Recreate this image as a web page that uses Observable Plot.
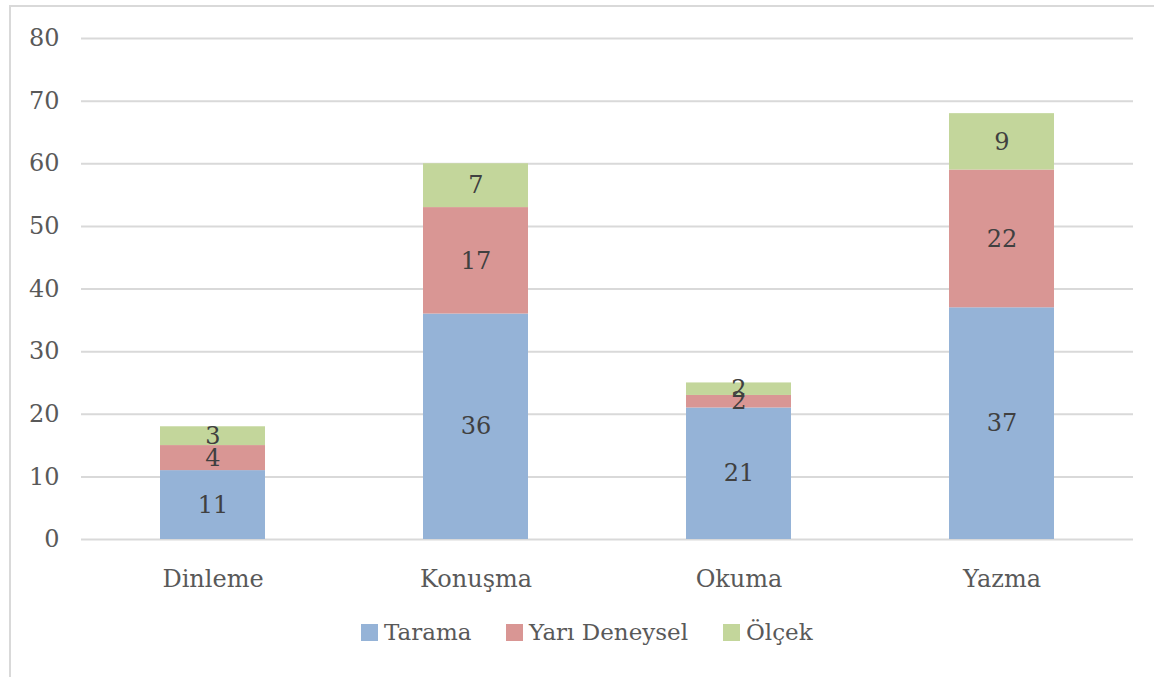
<!DOCTYPE html>
<html>
<head>
<meta charset="utf-8">
<script src="https://cdn.jsdelivr.net/npm/d3@7"></script>
<script src="https://cdn.jsdelivr.net/npm/@observablehq/plot@0.6"></script>
<style>
  body { margin: 0; background: #fff; font-family: "DejaVu Serif", serif; }
  #frame { position: absolute; left: 9px; top: 5px; width: 1150px; height: 680px; border: 2px solid #d9d9d9; box-sizing: border-box; }
  #chart { position: absolute; left: 0; top: 0; }
  #legend { position: absolute; top: 619px; left: 0; width: 1154px; height: 30px; }
  .item { position: absolute; top: 0; display: flex; align-items: center; font-size: 23px; color: #595959; }
  .sw { width: 17px; height: 17px; margin-right: 6px; }
</style>
</head>
<body>
<div id="frame"></div>
<div id="chart"></div>
<div id="legend"></div>
<script>
const categories = ["Dinleme", "Konuşma", "Okuma", "Yazma"];
const seriesNames = ["Tarama", "Yarı Deneysel", "Ölçek"];
const tarama = [11, 36, 21, 37];
const yariDeneysel = [4, 17, 2, 22];
const olcek = [3, 7, 2, 9];
const colors = ["#95b3d7", "#d99694", "#c3d69b"];
const yTicks = [0, 10, 20, 30, 40, 50, 60, 70, 80];

const seriesValues = [tarama, yariDeneysel, olcek];
const data = [];
categories.forEach((c, i) => {
  seriesNames.forEach((s, j) => {
    data.push({category: c, series: s, value: seriesValues[j][i]});
  });
});

const plot = Plot.plot({
  width: 1154,
  height: 600,
  marginLeft: 81,
  marginRight: 21,
  marginTop: 38,
  marginBottom: 61,
  style: {fontFamily: "DejaVu Serif, serif", fontSize: "24px", color: "#595959", background: "transparent"},
  x: {domain: categories, paddingInner: 0.6, paddingOuter: 0.3, label: null},
  y: {domain: [0, 80], label: null},
  color: {domain: seriesNames, range: colors},
  marks: [
    Plot.gridY(yTicks, {stroke: "#d9d9d9", strokeOpacity: 1, strokeWidth: 2}),
    Plot.barY(data, Plot.stackY({x: "category", y: "value", fill: "series", order: seriesNames})),
    Plot.text(data, Plot.stackY({x: "category", y: "value", z: "series", order: seriesNames, text: d => String(d.value), fill: "#404040", fontSize: 24})),
    Plot.axisY(yTicks, {tickSize: 0, tickPadding: 22, fontSize: 24, fill: "#595959", label: null}),
    Plot.axisX({tickSize: 0, tickPadding: 30, fontSize: 24, fill: "#595959", label: null})
  ]
});
document.getElementById("chart").appendChild(plot);

const legendPos = [361, 506, 723];
const legend = document.getElementById("legend");
seriesNames.forEach((s, j) => {
  const item = document.createElement("div");
  item.className = "item";
  item.style.left = legendPos[j] + "px";
  const sw = document.createElement("div");
  sw.className = "sw";
  sw.style.background = colors[j];
  const t = document.createElement("span");
  t.textContent = s;
  item.appendChild(sw);
  item.appendChild(t);
  legend.appendChild(item);
});
</script>
</body>
</html>
